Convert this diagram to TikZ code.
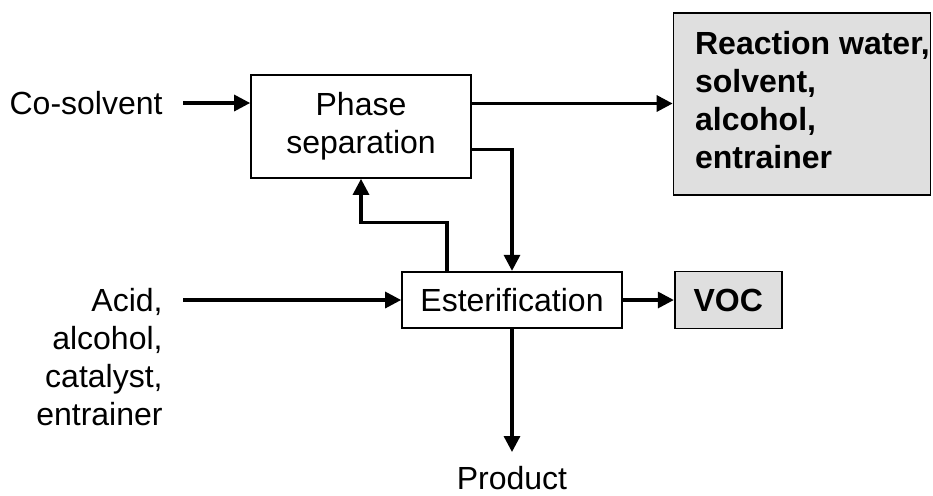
\documentclass[tikz,border=0pt]{standalone}
\usepackage{fontspec}
\setmainfont{Liberation Sans}
\usepackage{xcolor}
\usetikzlibrary{arrows.meta,positioning,calc}

\begin{document}
\begin{tikzpicture}[x=0.5pt,y=-0.5pt,font=\fontsize{16}{19}\selectfont,>={Triangle[length=8pt,width=8pt]},node distance=25.5pt]
\tikzstyle{block}=[draw,line width=0.85pt,minimum width=110pt,align=center,inner sep=0pt]
\tikzstyle{outbox}=[block,fill=gray!25,font=\fontsize{16}{19}\selectfont\bfseries]
\tikzstyle{lbl}=[inner sep=0pt]
\tikzstyle{flow}=[->,line width=1.6pt]
\useasboundingbox (0,0) rectangle (933,495);
\node[block,minimum height=51.5pt] (phase) at (361,126.5) {Phase\\separation};
\node[block,minimum height=28.3pt] (ester) at (512,300) {Esterification};
\node[outbox,right=of ester,minimum width=53.5pt,minimum height=28.5pt] (voc) {VOC};
\node[outbox,minimum width=128.5pt,minimum height=91pt] (water) at (802,104) {\begin{tabular}{@{\hspace{10.5pt}}l@{}}Reaction water,\\solvent,\\alcohol,\\entrainer\end{tabular}};
\node[lbl,anchor=east] (cosolv) at (163,103) {Co-solvent};
\node[lbl,anchor=north east,align=right] (feed) at (163,288) {Acid,\\alcohol,\\catalyst,\\entrainer};
\node[lbl,anchor=north] (product) at (512,466) {Product};
% streams
\draw[flow,shorten <=10pt] (cosolv.east) -- (cosolv.east -| phase.west);
\draw[flow] ([yshift=11.5pt]phase.east) -- ([yshift=11.5pt]phase.east -| water.west);
\draw[flow] ([yshift=-11.5pt]phase.east) -| (ester.north);
\draw[flow] ([xshift=-32.5pt]ester.north) -- ++(0,-48) -| (phase.south);
\draw[flow,shorten <=10pt] (feed.east |- ester.west) -- (ester.west);
\draw[flow] (ester.east) -- (voc.west);
\draw[flow] (ester.south) -- ([yshift=7pt]product.north);
\end{tikzpicture}
\end{document}
